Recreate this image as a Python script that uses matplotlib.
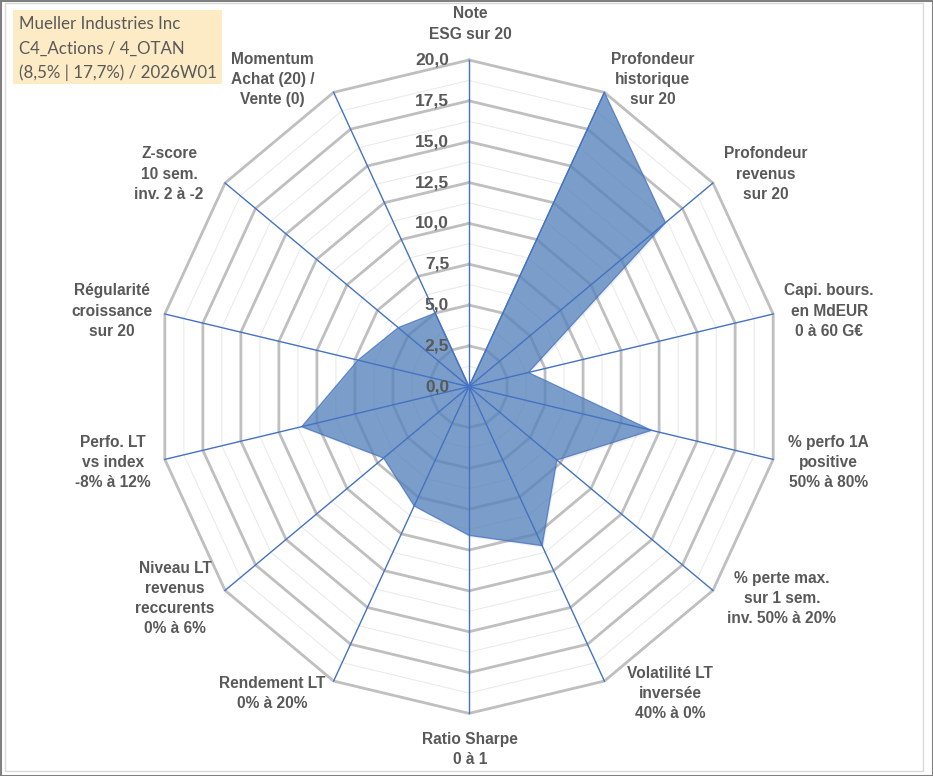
import numpy as np
import matplotlib
matplotlib.use('Agg')
import matplotlib.pyplot as plt
from matplotlib.patches import Polygon, Rectangle

# data
categories = ['Note\nESG sur 20',
              'Profondeur\nhistorique\nsur 20',
              'Profondeur\nrevenus\nsur 20',
              'Capi. bours.\nen MdEUR\n0 à 60 G€',
              '% perfo 1A\npositive\n50% à 80%',
              '% perte max.\nsur 1 sem.\ninv. 50% à 20%',
              'Volatilité LT\ninversée\n40% à 0%',
              'Ratio Sharpe\n0 à 1',
              'Rendement LT\n0% à 20%',
              'Niveau LT\nrevenus\nreccurents\n0% à 6%',
              'Perfo. LT\nvs index\n-8% à 12%',
              'Régularité\ncroissance\nsur 20',
              'Z-score\n10 sem.\ninv. 2 à -2',
              'Momentum\nAchat (20) /\nVente (0)']
values = [0.0, 20.0, 16.1, 3.9, 12.0, 7.2, 10.8, 9.1, 8.1, 7.0, 11.0, 7.3, 5.8, 5.0]
ticks = [0.0, 2.5, 5.0, 7.5, 10.0, 12.5, 15.0, 17.5, 20.0]
info_lines = ['Mueller Industries Inc', 'C4_Actions / 4_OTAN', '(8,5% | 17,7%) / 2026W01']

# label offsets from outer vertex, pixels (layout only)
lab_off = [(1, 36), (48, 13), (53, 9), (56, 3), (55, -3), (69, -8), (66, -12),
           (1, -36), (-61, -12), (-50, -8), (-52, -3), (-53, 3), (-56, 9), (-61, 13)]

TxtCol = '#595959'
GridCol = '#BFBFBF'
MinorCol = '#EBEBEB'
SpokeCol = '#4472C4'
FillCol = '#5A86BE'

W, H = 933, 776
cx, cy = 469, 386.7
pxx, pxy = 312 / 20, 326.7 / 20   # pixels per unit

fig = plt.figure(figsize=(W / 100, H / 100), dpi=100)
ax = fig.add_axes([0, 0, 1, 1])
ax.set_xlim(-cx / pxx, (W - cx) / pxx)
ax.set_ylim(-(H - cy) / pxy, cy / pxy)
ax.axis('off')

n = len(categories)
ang = np.arange(n) * 2 * np.pi / n
sx, sy = np.sin(ang), np.cos(ang)
rmax = ticks[-1]

# grid rings
minor = np.arange(1.25, rmax, 2.5)
for r in minor:
    ax.plot(np.append(r * sx, r * sx[0]), np.append(r * sy, r * sy[0]),
            color=MinorCol, lw=0.8, zorder=1)
for r in ticks[1:]:
    ax.plot(np.append(r * sx, r * sx[0]), np.append(r * sy, r * sy[0]),
            color=GridCol, lw=2.0, zorder=2, solid_joinstyle='miter')

# series
vals = np.array(values)
pts = np.column_stack([vals * sx, vals * sy])
shadow = Polygon(pts + np.array([1.5 / pxx, -2.0 / pxy]), closed=True,
                 facecolor='#000000', alpha=0.06, edgecolor='none', zorder=3)
ax.add_patch(shadow)
ax.add_patch(Polygon(pts, closed=True, facecolor=FillCol, alpha=0.78,
                     edgecolor=SpokeCol, lw=0.9, zorder=4))

# spokes
for k in range(n):
    ax.plot([0, rmax * sx[k]], [0, rmax * sy[k]], color=SpokeCol, lw=1.0, zorder=5)

# tick labels
for t in ticks:
    ax.annotate(f'{t:.1f}'.replace('.', ','), xy=(0, t), xytext=(-20, 0),
                textcoords='offset pixels', ha='right', va='center',
                fontsize=12.5, fontweight='bold', color=TxtCol,
                family='Liberation Sans', zorder=6)

# category labels
for k in range(n):
    ax.annotate(categories[k], xy=(rmax * sx[k], rmax * sy[k]), xytext=lab_off[k],
                textcoords='offset pixels', ha='center', va='center',
                multialignment='center', fontsize=11.2, fontweight='bold',
                color=TxtCol, family='Liberation Sans', linespacing=1.42, zorder=6)

# info box
fig.patches.append(Rectangle((13 / W, 1 - 84 / H), 209 / W, 74 / H,
                             transform=fig.transFigure, facecolor='#FDEBC6',
                             edgecolor='none', zorder=7))
for i, s in enumerate(info_lines):
    fig.text(19 / W, 1 - (24 + 24.5 * i) / H, s, ha='left', va='center',
             fontsize=12.2, color=TxtCol, family='Lato', zorder=8)

# chart border
fig.patches.append(Rectangle((5 / W, 5 / H), 918 / W, 768 / H, transform=fig.transFigure,
                             facecolor='none', edgecolor='#D9D9D9', lw=1.0))
fig.patches.append(Rectangle((0.5 / W, 0.5 / H), (W - 1) / W, (H - 1) / H,
                             transform=fig.transFigure, facecolor='none',
                             edgecolor='#808080', lw=1.5))

fig.savefig('out.png', dpi=100)
